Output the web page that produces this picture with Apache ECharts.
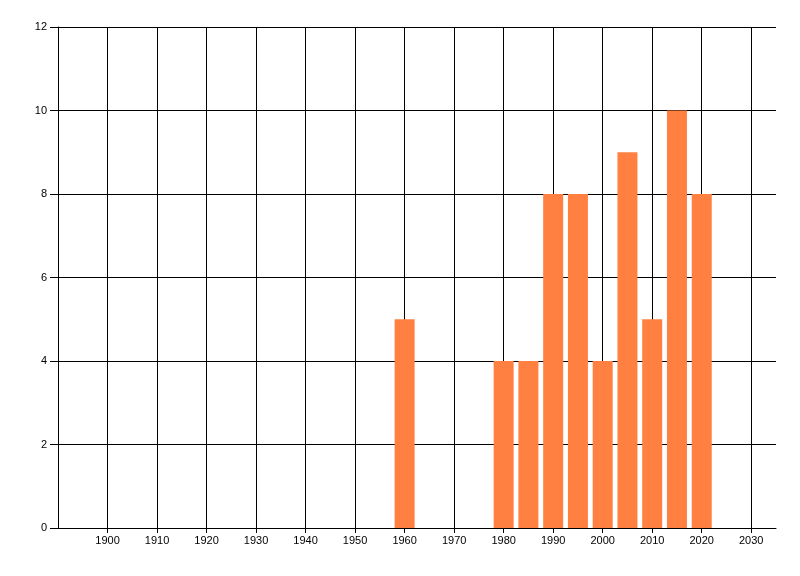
<!DOCTYPE html>
<html>
<head>
<meta charset="utf-8">
<script src="https://cdn.jsdelivr.net/npm/echarts@6/dist/echarts.min.js"></script>
<style>html,body{margin:0;padding:0;background:#fff;}#c{width:800px;height:576px;}</style>
</head>
<body>
<div id="c"></div>
<script>
var years = [1960, 1980, 1985, 1990, 1995, 2000, 2005, 2010, 2015, 2020];
var counts = [5, 4, 4, 8, 8, 4, 9, 5, 10, 8];
var xTickYears = [1900, 1910, 1920, 1930, 1940, 1950, 1960, 1970, 1980, 1990, 2000, 2010, 2020, 2030];
var xMin = 1890, xMax = 2035, xStep = 10;
var yMin = 0, yMax = 12, yStep = 2;

var chart = echarts.init(document.getElementById('c'), null, {renderer: 'canvas'});
var lineStyle = {color: '#000', width: 1};
var font = {color: '#000', fontSize: 11, fontFamily: 'Liberation Sans, Arial, sans-serif'};
chart.setOption({
  animation: false,
  backgroundColor: '#fff',
  grid: {left: 58, right: 24, top: 27, bottom: 48, containLabel: false},
  xAxis: {
    type: 'value', min: xMin, max: xMax, interval: xStep,
    axisLine: {show: true, lineStyle: lineStyle, onZero: false},
    axisTick: {show: true, length: 5, lineStyle: lineStyle, customValues: xTickYears},
    splitLine: {show: true, lineStyle: lineStyle, showMinLine: true, showMaxLine: true},
    axisLabel: Object.assign({margin: 7, customValues: xTickYears, formatter: function (v) { return String(v); }}, font)
  },
  yAxis: {
    type: 'value', min: yMin, max: yMax, interval: yStep,
    axisLine: {show: true, lineStyle: lineStyle},
    axisTick: {show: true, length: 8, lineStyle: lineStyle},
    splitLine: {show: true, lineStyle: lineStyle},
    axisLabel: Object.assign({margin: 11}, font)
  },
  series: [{
    type: 'bar',
    barWidth: 20,
    itemStyle: {color: '#ff8041'},
    data: years.map(function (y, i) { return [y, counts[i]]; })
  }]
});
</script>
</body>
</html>
